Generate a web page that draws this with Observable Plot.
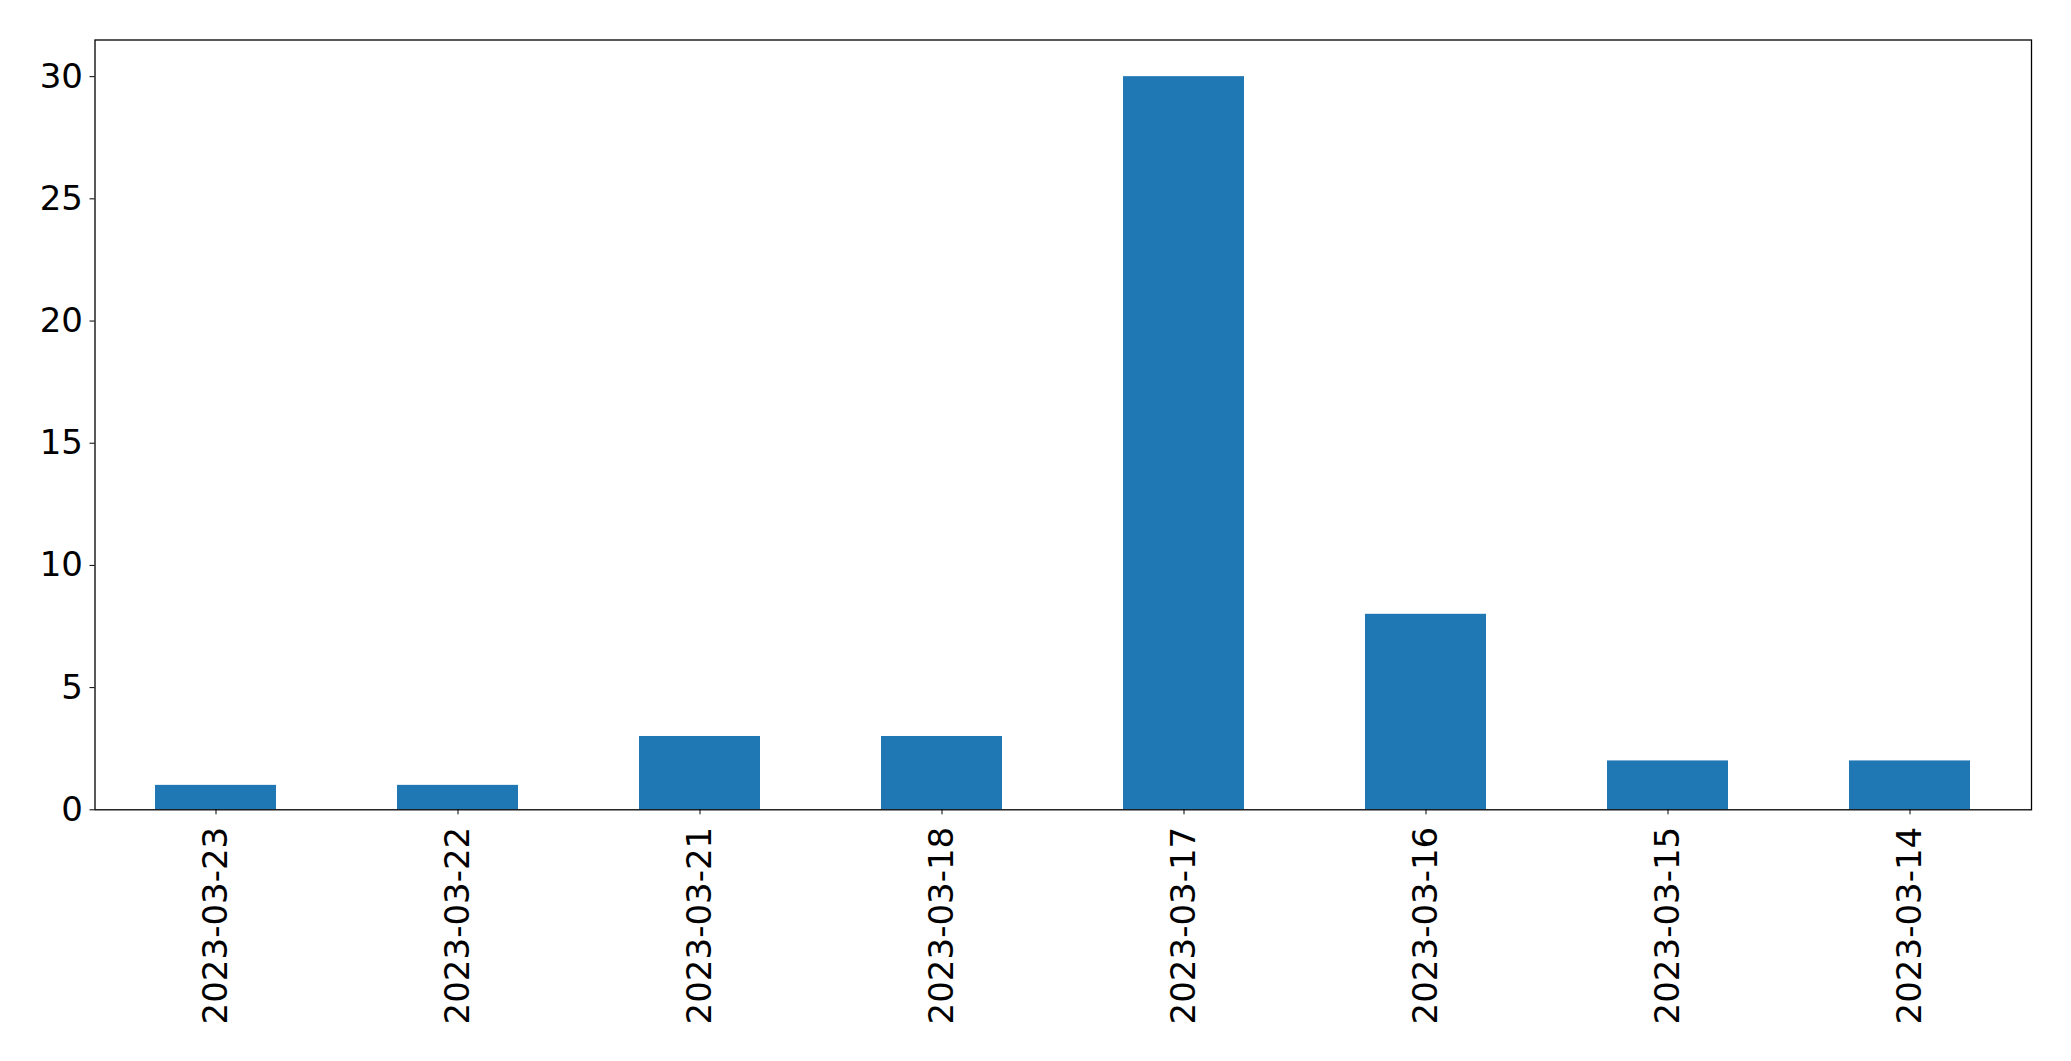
<!DOCTYPE html>
<html>
<head>
<meta charset="utf-8">
<script src="https://cdn.jsdelivr.net/npm/d3@7"></script>
<script src="https://cdn.jsdelivr.net/npm/@observablehq/plot@0.6"></script>
<style>
  html, body { margin: 0; padding: 0; background: #fff; }
  #chart svg { display: block; }
</style>
</head>
<body>
<div id="chart"></div>
<script>
const dates = ["2023-03-23", "2023-03-22", "2023-03-21", "2023-03-18", "2023-03-17", "2023-03-16", "2023-03-15", "2023-03-14"];
const counts = [1, 1, 3, 3, 30, 8, 2, 2];
const yTicks = [0, 5, 10, 15, 20, 25, 30];

const data = dates.map((d, i) => ({date: d, count: counts[i]}));

const chart = Plot.plot({
  width: 2071,
  height: 1061,
  marginLeft: 94.5,
  marginRight: 40,
  marginTop: 39.5,
  marginBottom: 251.7,
  style: {fontFamily: "DejaVu Sans", fontSize: "34px", color: "#000", background: "#fff"},
  x: {domain: dates, paddingInner: 0.5, paddingOuter: 0.25, label: null},
  y: {domain: [0, 31.5], label: null},
  marks: [
    Plot.barY(data, {x: "date", y: "count", fill: "#1f77b4"}),
    Plot.axisY({ticks: yTicks, tickSize: 5, tickPadding: 7, fontSize: 34, label: null, stroke: "#000"}),
    Plot.axisX({tickSize: 5, tickPadding: 12, tickRotate: -90, fontSize: 34, label: null, stroke: "#000"}),
    Plot.frame({stroke: "#000", strokeWidth: 1.3})
  ]
});
document.getElementById("chart").appendChild(chart);
</script>
</body>
</html>
